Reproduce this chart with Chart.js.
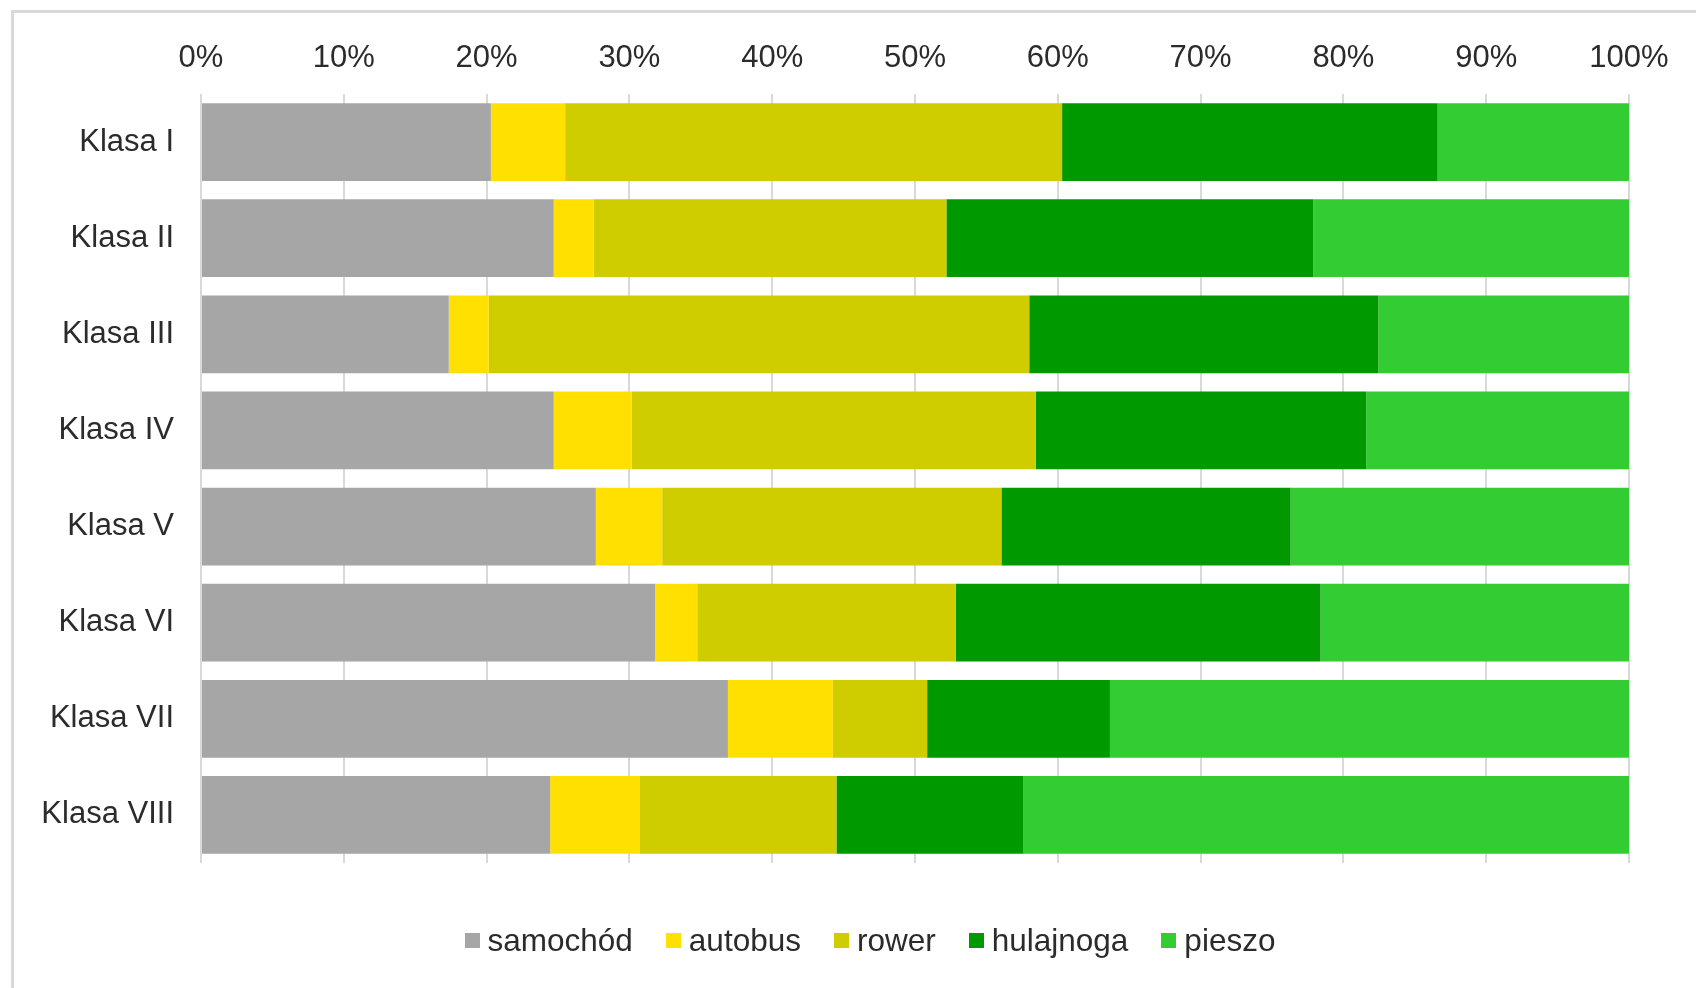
<!DOCTYPE html>
<html><head><meta charset="utf-8">
<script src="https://cdn.jsdelivr.net/npm/chart.js@4.4.1/dist/chart.umd.min.js"></script>
<style>
html,body{margin:0;padding:0;background:#fff;width:1696px;height:988px;overflow:hidden;}
#frame{position:absolute;left:11px;top:10px;width:2000px;height:2000px;border-left:3px solid #D9D9D9;border-top:3px solid #D9D9D9;}
#wrap{position:absolute;left:0;top:0;width:1696px;height:988px;}
#legend{position:absolute;left:460px;top:921px;height:38px;display:flex;align-items:center;font-family:"Liberation Sans",Arial,sans-serif;font-size:31.5px;color:#2b2b2b;white-space:nowrap;}
.item{display:flex;align-items:center;margin-right:33px;}
.item:last-child{margin-right:0;}
.box{width:15px;height:15px;margin-right:8px;}
</style></head>
<body>
<div id="frame"></div>
<div id="wrap"><canvas id="c" width="1696" height="988"></canvas></div>
<div id="legend"></div>
<script>
const categories = ['Klasa I','Klasa II','Klasa III','Klasa IV','Klasa V','Klasa VI','Klasa VII','Klasa VIII'];
const seriesNames = ['samochód','autobus','rower','hulajnoga','pieszo'];
const samochod  = [20.3, 24.7, 17.35, 24.7, 27.65, 31.8, 36.9, 24.45];
const autobus   = [5.2, 2.8, 2.8, 5.45, 4.65, 2.95, 7.35, 6.25];
const rower     = [34.8, 24.7, 37.85, 28.3, 23.75, 18.1, 6.6, 13.8];
const hulajnoga = [26.3, 25.7, 24.45, 23.15, 20.25, 25.55, 12.8, 13.1];
const pieszo    = [13.4, 22.1, 17.55, 18.4, 23.7, 21.6, 36.35, 42.4];
const tickLabels = ['0%','10%','20%','30%','40%','50%','60%','70%','80%','90%','100%'];
const colors = ['#A6A6A6','#FFE000','#CFCC00','#009900','#33CC33'];

const seriesData = [samochod, autobus, rower, hulajnoga, pieszo];
const FONT = 'Liberation Sans';
const TEXT = '#2b2b2b';

const chart = new Chart(document.getElementById('c'), {
  type: 'bar',
  data: {
    labels: categories,
    datasets: seriesNames.map((n, i) => ({
      label: n,
      data: seriesData[i],
      backgroundColor: colors[i],
      borderWidth: 0,
      barPercentage: 0.81,
      categoryPercentage: 1
    }))
  },
  options: {
    indexAxis: 'y',
    responsive: false,
    animation: false,
    layout: { padding: { left: 38, right: 67, top: 38, bottom: 125 } },
    plugins: { legend: { display: false }, tooltip: { enabled: false } },
    scales: {
      x: {
        position: 'top',
        stacked: true,
        min: 0, max: 100,
        ticks: {
          stepSize: 10, padding: 17, color: TEXT, maxRotation: 0, autoSkip: false,
          font: { family: FONT, size: 31 },
          callback: (v, i) => tickLabels[i]
        },
        grid: { color: '#D9D9D9', lineWidth: 2, drawTicks: false },
        border: { display: false },
        afterFit: s => { s.height = 56; }
      },
      y: {
        stacked: true,
        ticks: { padding: 27, color: TEXT, font: { family: FONT, size: 31 } },
        grid: { display: false, drawTicks: false },
        border: { display: false },
        afterFit: s => { s.width = 163; }
      }
    }
  }
});

const leg = document.getElementById('legend');
chart.data.datasets.forEach(ds => {
  const it = document.createElement('div'); it.className = 'item';
  const b = document.createElement('div'); b.className = 'box'; b.style.background = ds.backgroundColor;
  const t = document.createElement('span'); t.textContent = ds.label;
  it.appendChild(b); it.appendChild(t); leg.appendChild(it);
});
leg.style.left = (870 - leg.offsetWidth / 2) + 'px';
</script>
</body></html>
